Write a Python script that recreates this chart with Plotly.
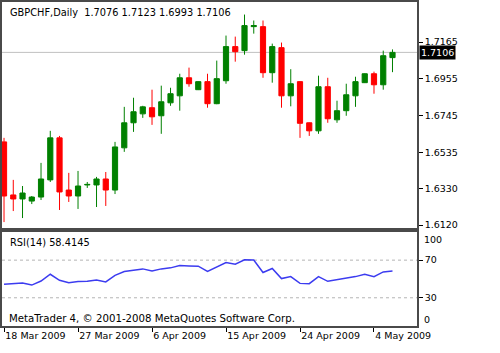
import plotly.graph_objects as go

# ---- data ----
tick_idx = [0, 8, 16, 24, 32, 40]
tick_labels = ["18 Mar 2009", "27 Mar 2009", "6 Apr 2009", "15 Apr 2009", "24 Apr 2009", "4 May 2009"]

open_ = [1.6595, 1.6292, 1.6269, 1.6257, 1.6280, 1.6378, 1.6618, 1.6320, 1.6286, 1.6349,
         1.6349, 1.6383, 1.6320, 1.6561, 1.6704, 1.6755, 1.6790, 1.6744, 1.6818, 1.6858,
         1.6961, 1.6893, 1.6939, 1.6813, 1.6944, 1.7139, 1.7116, 1.7253, 1.7253, 1.6990,
         1.7133, 1.6858, 1.6939, 1.6704, 1.6658, 1.6910, 1.6721, 1.6773, 1.6858, 1.6933,
         1.6984, 1.6921, 1.7076]
high = [1.6618, 1.6378, 1.6343, 1.6286, 1.6475, 1.6658, 1.6629, 1.6418, 1.6429, 1.6366,
        1.6395, 1.6423, 1.6595, 1.6795, 1.6847, 1.6801, 1.6893, 1.6916, 1.6904, 1.6984,
        1.7019, 1.6941, 1.6984, 1.7059, 1.7202, 1.7196, 1.7322, 1.7288, 1.7288, 1.7156,
        1.7162, 1.7010, 1.6941, 1.6706, 1.6973, 1.6961, 1.6830, 1.6927, 1.6967, 1.6986,
        1.6996, 1.7116, 1.7123]
low = [1.6137, 1.6200, 1.6160, 1.6240, 1.6263, 1.6366, 1.6206, 1.6252, 1.6212, 1.6332,
       1.6223, 1.6229, 1.6297, 1.6538, 1.6652, 1.6732, 1.6692, 1.6641, 1.6801, 1.6773,
       1.6910, 1.6891, 1.6790, 1.6810, 1.6927, 1.7053, 1.7093, 1.7213, 1.6961, 1.6933,
       1.6790, 1.6798, 1.6618, 1.6629, 1.6641, 1.6704, 1.6704, 1.6744, 1.6795, 1.6931,
       1.6870, 1.6893, 1.6993]
close = [1.6286, 1.6269, 1.6303, 1.6280, 1.6383, 1.6618, 1.6309, 1.6286, 1.6343, 1.6352,
         1.6383, 1.6320, 1.6566, 1.6704, 1.6767, 1.6795, 1.6738, 1.6824, 1.6870, 1.6961,
         1.6927, 1.6939, 1.6813, 1.6956, 1.7139, 1.7110, 1.7259, 1.7259, 1.6990, 1.7139,
         1.6858, 1.6927, 1.6701, 1.6658, 1.6910, 1.6727, 1.6773, 1.6864, 1.6939, 1.6984,
         1.6921, 1.7087, 1.7106]
rsi = [44.3, 45.0, 45.7, 43.5, 47.8, 55.0, 48.6, 46.1, 47.2, 47.5,
       48.9, 46.8, 53.9, 57.9, 59.6, 60.7, 58.5, 60.7, 61.8, 64.3,
       63.9, 63.6, 58.0, 62.8, 67.5, 65.7, 70.3, 70.1, 56.8, 61.1,
       50.4, 52.5, 45.3, 45.0, 52.5, 47.5, 48.9, 50.7, 52.5, 55.0,
       52.5, 57.5, 58.4145]
price_ticks = [1.7165, 1.6955, 1.6745, 1.6535, 1.6330, 1.6120]
rsi_levels = [70, 30]
last_price = 1.7106

FONT = "DejaVu Sans"
FS = 9.5
FRAME = "#4a4a4a"

x = list(range(len(close)))

fig = go.Figure()
fig.add_trace(go.Candlestick(
    x=x, open=open_, high=high, low=low, close=close,
    xaxis="x", yaxis="y",
    increasing=dict(line=dict(color="#008000", width=1), fillcolor="#008000"),
    decreasing=dict(line=dict(color="#ff0000", width=1), fillcolor="#ff0000"),
    whiskerwidth=0, showlegend=False, hoverinfo="skip"))
fig.add_trace(go.Scatter(
    x=x, y=rsi, xaxis="x2", yaxis="y2", mode="lines",
    line=dict(color="#3c3cf0", width=1.5), showlegend=False, hoverinfo="skip"))

xr = [-0.22, 44.65]
axcommon = dict(showgrid=False, zeroline=False, showline=True, mirror=True,
                linecolor=FRAME, linewidth=1.5, automargin=False)

fig.update_layout(
    width=500, height=353,
    margin=dict(l=0, r=0, t=0, b=0, autoexpand=False),
    paper_bgcolor="white", plot_bgcolor="white",
    font=dict(family=FONT, size=FS, color="black"),
    boxgap=0.2,
    xaxis=dict(domain=[0.004, 0.834], range=xr, anchor="y", showticklabels=False,
               ticks="", rangeslider=dict(visible=False), **axcommon),
    yaxis=dict(domain=[0.354, 0.994], range=[1.6103, 1.7393], anchor="x", side="right",
               tickvals=price_ticks, ticktext=[f"{v:.4f}" for v in price_ticks],
               ticks="outside", ticklen=4, tickcolor="black", **axcommon),
    xaxis2=dict(domain=[0.004, 0.834], range=xr, anchor="y2",
                tickvals=tick_idx, ticktext=tick_labels, ticks="outside", ticklen=4,
                tickcolor="black", ticklabelposition="outside right", **axcommon),
    yaxis2=dict(domain=[0.0765, 0.343], range=[0, 100], anchor="x2", side="right",
                tickvals=rsi_levels, ticktext=[str(v) for v in rsi_levels],
                ticks="outside", ticklen=4, tickcolor="black", **axcommon),
)

# current price line
fig.add_shape(type="line", xref="x domain", yref="y", x0=0, x1=1, y0=last_price, y1=last_price,
              line=dict(color="#c0c0c0", width=1), layer="below")
# RSI levels
for lv in rsi_levels:
    fig.add_shape(type="line", xref="x2 domain", yref="y2", x0=0, x1=1, y0=lv, y1=lv,
                  line=dict(color="#b4b4b4", width=1, dash="3px,3px"), layer="below")

anns = [
    dict(text=f"GBPCHF,Daily  {open_[-1]:.4f} {high[-1]:.4f} {low[-1]:.4f} {close[-1]:.4f}",
         xref="paper", yref="paper", x=8 / 500, y=1 - 12 / 353, xanchor="left", yanchor="middle",
         font=dict(size=9.8)),
    dict(text=f"RSI(14) {rsi[-1]:.4f}", xref="paper", yref="paper",
         x=8 / 500, y=1 - 242 / 353, xanchor="left", yanchor="middle", font=dict(size=9.8)),
    dict(text="MetaTrader 4, © 2001-2008 MetaQuotes Software Corp.", xref="paper", yref="paper",
         x=7 / 500, y=1 - 318 / 353, xanchor="left", yanchor="middle", font=dict(size=10.2)),
    dict(text="100", xref="paper", yref="y2 domain", x=422 / 500, y=0.915,
         xanchor="left", yanchor="middle"),
    dict(text="0", xref="paper", yref="y2 domain", x=422 / 500, y=0.074,
         xanchor="left", yanchor="middle"),
    dict(text=f"{last_price:.4f}", xref="paper", yref="y", x=419 / 500, y=last_price,
         xanchor="left", yanchor="middle", bgcolor="black", font=dict(color="white"),
         borderpad=1),
]
for a in anns:
    a.setdefault("showarrow", False)
    fig.add_annotation(**a)

fig.write_html("out.html")
